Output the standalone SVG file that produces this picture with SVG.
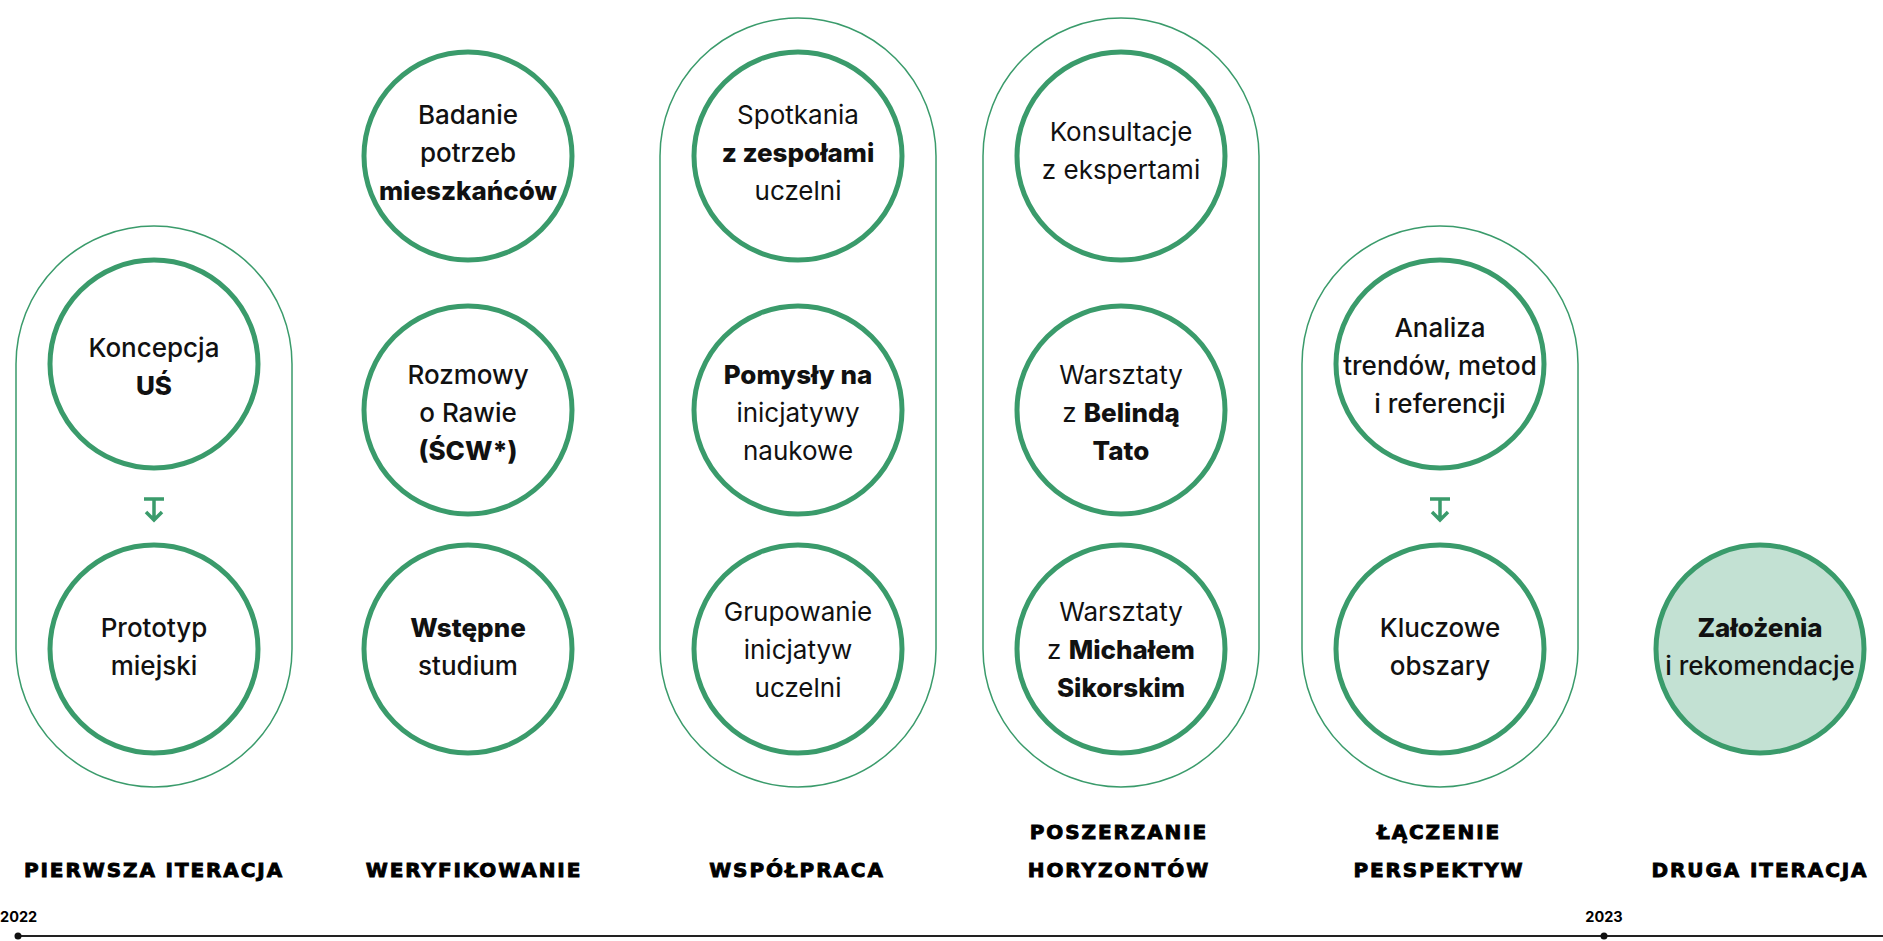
<svg xmlns="http://www.w3.org/2000/svg" width="1883" height="941" viewBox="0 0 1883 941">
<defs>
<style>
.pill{fill:none;stroke:#3a9b6b;stroke-width:1.5}
.c{fill:#fff;stroke:#3a9b6b;stroke-width:5}
.cf{fill:#c3e1d3;stroke:#3a9b6b;stroke-width:5}
.t{font-family:Inter,"Noto Sans",sans-serif;font-size:26px;fill:#111;text-anchor:middle}
.m{font-weight:500}
.r{font-weight:400}
.b{font-weight:800}
.h{font-family:"DejaVu Sans",sans-serif;font-weight:bold;font-size:20px;letter-spacing:1.9px;text-anchor:middle;fill:#000;stroke:#000;stroke-width:0.9px}
.y{font-family:Inter,"Noto Sans",sans-serif;font-weight:700;font-size:14.5px;fill:#000}
.arr{fill:none;stroke:#3a9b6b;stroke-width:3.5;stroke-linecap:butt}
</style>
</defs>
<rect width="1883" height="941" fill="#fff"/>

<g id="pills">
<rect class="pill" x="16" y="226" width="276" height="561" rx="138"/>
<rect class="pill" x="660" y="18" width="276" height="769" rx="138"/>
<rect class="pill" x="983" y="18" width="276" height="769" rx="138"/>
<rect class="pill" x="1302" y="226" width="276" height="561" rx="138"/>
</g>

<g id="connectors">
<path class="arr" d="M144,499 H164 M154,499 V520 M146,512 L154,520 L162,512"/>
<path class="arr" d="M1430,499 H1450 M1440,499 V520 M1432,512 L1440,520 L1448,512"/>
</g>

<g id="n-koncepcja">
<circle class="c" cx="154" cy="364" r="104"/>
<text class="t m" x="154" y="357">Koncepcja</text>
<text class="t b" x="154" y="395">UŚ</text>
</g>
<g id="n-prototyp">
<circle class="c" cx="154" cy="649" r="104"/>
<text class="t m" x="154" y="637">Prototyp</text>
<text class="t m" x="154" y="675">miejski</text>
</g>

<g id="n-badanie">
<circle class="c" cx="468" cy="156" r="104"/>
<text class="t m" x="468" y="124">Badanie</text>
<text class="t m" x="468" y="162">potrzeb</text>
<text class="t b" x="468" y="200">mieszkańców</text>
</g>
<g id="n-rozmowy">
<circle class="c" cx="468" cy="410" r="104"/>
<text class="t m" x="468" y="384">Rozmowy</text>
<text class="t m" x="468" y="422">o Rawie</text>
<text class="t b" x="468" y="460">(ŚCW*)</text>
</g>
<g id="n-wstepne">
<circle class="c" cx="468" cy="649" r="104"/>
<text class="t b" x="468" y="637">Wstępne</text>
<text class="t m" x="468" y="675">studium</text>
</g>

<g id="n-spotkania">
<circle class="c" cx="798" cy="156" r="104"/>
<text class="t r" x="798" y="124">Spotkania</text>
<text class="t b" x="798" y="162">z zespołami</text>
<text class="t r" x="798" y="200">uczelni</text>
</g>
<g id="n-pomysly">
<circle class="c" cx="798" cy="410" r="104"/>
<text class="t b" x="798" y="384">Pomysły na</text>
<text class="t r" x="798" y="422">inicjatywy</text>
<text class="t r" x="798" y="460">naukowe</text>
</g>
<g id="n-grupowanie">
<circle class="c" cx="798" cy="649" r="104"/>
<text class="t r" x="798" y="621">Grupowanie</text>
<text class="t r" x="798" y="659">inicjatyw</text>
<text class="t r" x="798" y="697">uczelni</text>
</g>

<g id="n-konsultacje">
<circle class="c" cx="1121" cy="156" r="104"/>
<text class="t r" x="1121" y="141">Konsultacje</text>
<text class="t r" x="1121" y="179">z ekspertami</text>
</g>
<g id="n-belinda">
<circle class="c" cx="1121" cy="410" r="104"/>
<text class="t r" x="1121" y="384">Warsztaty</text>
<text class="t r" x="1121" y="422">z <tspan class="b">Belindą</tspan></text>
<text class="t b" x="1121" y="460">Tato</text>
</g>
<g id="n-michal">
<circle class="c" cx="1121" cy="649" r="104"/>
<text class="t r" x="1121" y="621">Warsztaty</text>
<text class="t r" x="1121" y="659">z <tspan class="b">Michałem</tspan></text>
<text class="t b" x="1121" y="697">Sikorskim</text>
</g>

<g id="n-analiza">
<circle class="c" cx="1440" cy="364" r="104"/>
<text class="t m" x="1440" y="337">Analiza</text>
<text class="t m" x="1440" y="375">trendów, metod</text>
<text class="t m" x="1440" y="413">i referencji</text>
</g>
<g id="n-kluczowe">
<circle class="c" cx="1440" cy="649" r="104"/>
<text class="t m" x="1440" y="637">Kluczowe</text>
<text class="t m" x="1440" y="675">obszary</text>
</g>

<g id="n-zalozenia">
<circle class="cf" cx="1760" cy="649" r="104"/>
<text class="t b" x="1760" y="637">Założenia</text>
<text class="t m" x="1760" y="675">i rekomendacje</text>
</g>

<g id="headings">
<text class="h" x="154" y="877">PIERWSZA ITERACJA</text>
<text class="h" x="474" y="877">WERYFIKOWANIE</text>
<text class="h" x="797" y="877">WSPÓŁPRACA</text>
<text class="h" x="1119" y="839">POSZERZANIE</text>
<text class="h" x="1119" y="877">HORYZONTÓW</text>
<text class="h" x="1439" y="839">ŁĄCZENIE</text>
<text class="h" x="1439" y="877">PERSPEKTYW</text>
<text class="h" x="1760" y="877">DRUGA ITERACJA</text>
</g>

<g id="timeline">
<line x1="18" y1="936" x2="1883" y2="936" stroke="#222" stroke-width="2"/>
<circle cx="18" cy="936" r="3.5" fill="#111"/>
<circle cx="1604" cy="936" r="3.5" fill="#111"/>
<text class="y" x="0" y="922">2022</text>
<text class="y" x="1604" y="922" text-anchor="middle">2023</text>
</g>
</svg>
